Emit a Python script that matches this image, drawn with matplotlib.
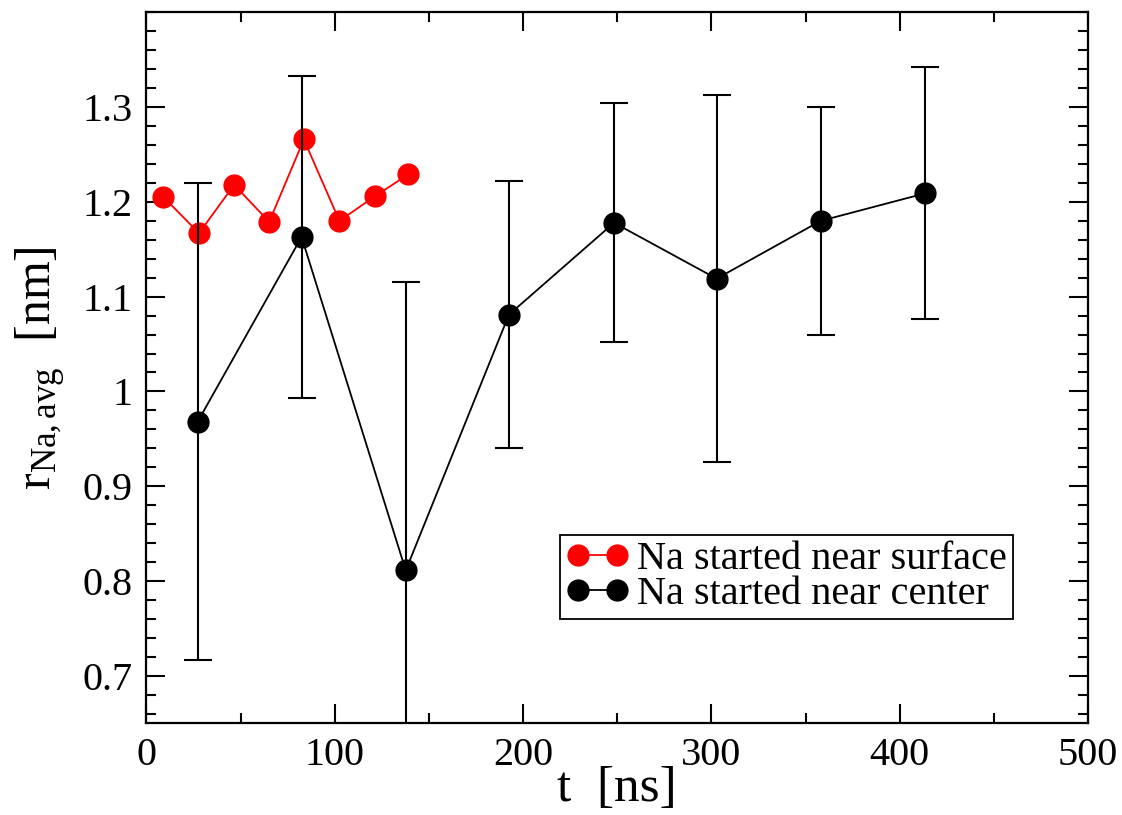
import matplotlib
matplotlib.use("Agg")
import matplotlib.pyplot as plt
from matplotlib.ticker import MultipleLocator
from matplotlib.lines import Line2D

# Data
surface_t = [8.9, 27.9, 46.6, 65.2, 83.6, 102.5, 121.3, 139.0]
surface_r = [1.2055, 1.167, 1.218, 1.179, 1.266, 1.180, 1.206, 1.229]

center_t = [27.2, 82.4, 137.7, 192.5, 248.3, 302.8, 358.0, 413.4]
center_r = [0.968, 1.163, 0.811, 1.081, 1.178, 1.119, 1.180, 1.209]
center_err = [0.252, 0.170, 0.305, 0.141, 0.126, 0.194, 0.120, 0.133]

labels = ["Na started near surface", "Na started near center"]

plt.rcParams['font.family'] = ['Liberation Serif', 'DejaVu Serif']
plt.rcParams['mathtext.fontset'] = 'custom'
plt.rcParams['mathtext.rm'] = 'Liberation Serif'
plt.rcParams['mathtext.it'] = 'Liberation Serif:italic'

fig = plt.figure(figsize=(11.22, 8.15), dpi=100)
ax = fig.add_axes([0.1305, 0.1129, 0.8392, 0.8718])

ax.plot(surface_t, surface_r, color='red', lw=1.3, marker='o', ms=15,
        mec='red', mfc='red', zorder=3)
ax.errorbar(center_t, center_r, yerr=center_err, color='black', lw=1.3,
            marker='o', ms=15, mfc='black', mec='black', ecolor='black',
            elinewidth=1.5, capsize=10, capthick=1.5, zorder=4)

ax.set_xlim(0, 500)
ax.set_ylim(0.65, 1.4)
ax.xaxis.set_major_locator(MultipleLocator(100))
ax.xaxis.set_minor_locator(MultipleLocator(50))
ax.yaxis.set_minor_locator(MultipleLocator(0.02))
ax.set_yticks([0.7, 0.8, 0.9, 1.0, 1.1, 1.2, 1.3])
ax.set_yticklabels(['0.7', '0.8', '0.9', '1', '1.1', '1.2', '1.3'])

ax.tick_params(which='both', direction='in', top=True, right=True, width=1.5,
               labelsize=29)
ax.tick_params(which='major', length=14, pad=10)
ax.tick_params(which='minor', length=7)
for s in ax.spines.values():
    s.set_linewidth(1.6)

ax.set_xlabel('t  [ns]', fontsize=37, labelpad=-6)
ax.set_ylabel(r'r$_{\mathrm{Na,avg}}$  [nm]', fontsize=36, labelpad=10)

handles = [
    Line2D([], [], color='red', lw=1.3, marker='o', ms=15, mfc='red', mec='red'),
    Line2D([], [], color='black', lw=1.3, marker='o', ms=15, mfc='black', mec='black'),
]
leg = ax.legend(handles, labels, loc='lower right', bbox_to_anchor=(0.920, 0.146),
                fontsize=29, numpoints=2, handlelength=1.55, handletextpad=0.2,
                borderpad=0.15, labelspacing=-0.05, borderaxespad=0,
                fancybox=False, framealpha=1, edgecolor='black')
leg.get_frame().set_linewidth(1.3)

fig.savefig('out.png', dpi=100)
